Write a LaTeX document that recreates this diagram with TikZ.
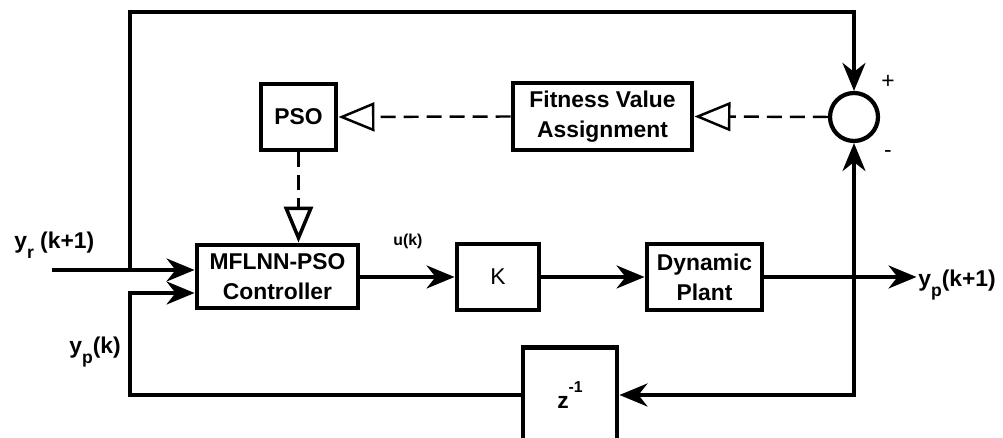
\documentclass[tikz,border=0pt]{standalone}
\usepackage{fontspec}
\setmainfont{Liberation Sans}
\usepackage{tikz}
\usetikzlibrary{arrows.meta,calc}
\newcommand{\lowsub}[1]{\raisebox{-0.75ex}{\fontsize{10}{10}\selectfont #1}}

\begin{document}
\begin{tikzpicture}[
    block/.style={draw, line width=2.8pt, align=center, inner sep=0pt, font=\fontsize{13}{17}\selectfont\bfseries},
    sumnode/.style={draw, circle, line width=2.4pt, minimum size=0.96cm, inner sep=0pt},
    wire/.style={line width=2pt},
    arr/.style={wire, -{Stealth[length=0.56cm,width=0.46cm,inset=0.18cm]}},
    dashline/.style={line width=1.4pt, dash pattern=on 0.3cm off 0.16cm, -{Triangle[open,length=0.72cm,width=0.58cm]}},
    sig/.style={anchor=base west, inner sep=0pt, font=\fontsize{13}{17}\selectfont\bfseries}
]
    \useasboundingbox (0,0) rectangle (20.06,8.76);

    % Blocks
    \node[block, minimum width=3.22cm, minimum height=1.26cm] (ctrl) at (5.55,3.23) {MFLNN-PSO\\Controller};
    \node[block, minimum width=1.5cm, minimum height=1.32cm] (pso) at (5.97,6.42) {PSO};
    \node[block, minimum width=3.58cm, minimum height=1.34cm] (fit) at (12.05,6.43) {Fitness Value\\Assignment};
    \node[sumnode] (sum) at (17.08,6.42) {};
    \node[block, minimum width=1.64cm, minimum height=1.32cm, font=\fontsize{13}{17}\selectfont] (gain) at (9.96,3.22) {K};
    \node[block, minimum width=2.3cm, minimum height=1.32cm] (plant) at (14.09,3.22) {Dynamic\\Plant};
    \node[block, minimum width=1.88cm, minimum height=1.9cm] (delay) at (11.4,0.86) {z\raisebox{1.3ex}{\fontsize{9}{9}\selectfont -1}};

    % Junctions and free ends
    \coordinate (yrin) at (1.04,3.36);
    \coordinate (jin) at (2.6,3.36);
    \coordinate (tr) at (17.08,8.52);
    \coordinate (jfb) at (2.6,2.9);
    \coordinate (jout) at (17.08,3.22);
    \coordinate (yout) at (18.33,3.22);

    % Signal path
    \draw[arr] (yrin) -- (ctrl.west |- yrin);
    \draw[arr] (jin) |- (tr) -- (sum.north);
    \draw[arr] (ctrl.east |- gain.west) -- (gain.west);
    \draw[arr] (gain.east) -- (plant.west);
    \draw[arr] (plant.east) -- (yout);
    \draw[arr] (jout) -- (sum.south);
    \draw[arr] (jout) |- (delay.east);
    \draw[arr] (delay.west) -| (jfb) -- (ctrl.west |- jfb);

    % Tuning path
    \draw[dashline] (sum.west) -- (fit.east);
    \draw[dashline] (fit.west) -- (pso.east);
    \draw[dashline, line width=2pt] (pso.south) -- (pso.south |- ctrl.north);

    % Labels
    \node[sig] (yrlab) at (0.28,3.78) {y\lowsub{r} (k+1)};
    \node[sig] (yplab) at (1.38,1.68) {y\lowsub{p}(k)};
    \node[sig, font=\fontsize{9}{11}\selectfont\bfseries] (ulab) at (7.86,3.84) {u(k)};
    \node[sig] (youtlab) at (18.36,3.02) {y\lowsub{p}(k+1)};
    \node[font=\fontsize{13}{15}\selectfont] (plus) at (17.76,7.12) {+};
    \node[font=\fontsize{13}{15}\selectfont] (minus) at (17.76,5.68) {-};
\end{tikzpicture}
\end{document}
